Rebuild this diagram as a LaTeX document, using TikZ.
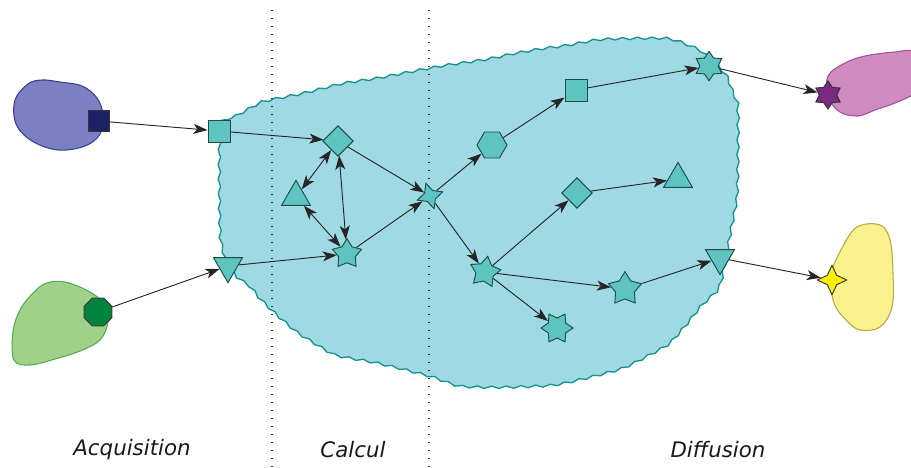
\documentclass[tikz,border=0pt]{standalone}
\usepackage{fontspec}
\setsansfont{DejaVu Sans}
\usetikzlibrary{shapes.geometric,arrows.meta,decorations.pathmorphing}
\definecolor{regfill}{HTML}{9FD9E4}
\definecolor{regdraw}{HTML}{17948F}
\definecolor{nfill}{HTML}{5EC4BF}
\definecolor{ndraw}{HTML}{1F4B48}
\definecolor{bluefill}{HTML}{7B80C2}
\definecolor{bluedraw}{HTML}{3A3F92}
\definecolor{navy}{HTML}{1B2266}
\definecolor{greenfill}{HTML}{A1D189}
\definecolor{greendraw}{HTML}{4FAE55}
\definecolor{darkgreen}{HTML}{00843D}
\definecolor{pinkfill}{HTML}{CF8BC0}
\definecolor{pinkdraw}{HTML}{A2529C}
\definecolor{purp}{HTML}{7A2A80}
\definecolor{yelfill}{HTML}{FAF08C}
\definecolor{yeldraw}{HTML}{B3AA48}
\definecolor{yel}{HTML}{FFEE00}
\begin{document}
\begin{tikzpicture}[x=0.75pt,y=-0.75pt,
  shp/.style={draw=ndraw,fill=nfill,line width=0.7pt,inner sep=0pt},
  sqb/.style={shp,rectangle,minimum size=16.5pt},
  dia/.style={shp,diamond,minimum size=23pt},
  triu/.style={shp,regular polygon,regular polygon sides=3,minimum size=25pt},
  trid/.style={triu,shape border rotate=180},
  hexa/.style={shp,regular polygon,regular polygon sides=6,minimum size=22.5pt},
  stfive/.style={shp,star,star points=5,star point ratio=1.75},
  stfour/.style={shp,star,star points=4,star point ratio=2.2},
  stsix/.style={shp,star,star points=6,star point ratio=1.6},
  tip/.style={},
  arr/.style={-{Stealth[length=10.5pt,width=7.5pt,inset=2.8pt]},line width=0.7pt,draw=black!85},
  darr/.style={{Stealth[length=10.5pt,width=7.5pt,inset=2.8pt]}-{Stealth[length=10.5pt,width=7.5pt,inset=2.8pt]},line width=0.7pt,draw=black!85},
  sep/.style={line width=0.8pt,dash pattern=on 1.1pt off 4.9pt,draw=black!80},
  lab/.style={font=\sffamily\itshape\fontsize{16}{19}\selectfont,text=black!90}
]
\useasboundingbox (0,0) rectangle (911,468);

% outer blobs
\path[draw=bluedraw,fill=bluefill,line width=0.8pt] plot[smooth cycle,tension=0.6] coordinates {
 (15,100) (28,84) (42,80) (60,82) (82,86) (97,98) (103,115) (100,134) (85,146) (58,150) (32,141) (16,124)};
\path[draw=greendraw,fill=greenfill,line width=0.8pt] plot[smooth cycle,tension=0.6] coordinates {
 (47,283) (65,282) (90,292) (105,305) (108,322) (100,340) (80,351) (55,359) (30,365) (14,360) (13,332) (20,310) (34,292)};
\begin{scope}
\clip (0,0) rectangle (911,468);
\path[draw=pinkdraw,fill=pinkfill,line width=0.8pt] plot[smooth cycle,tension=0.6] coordinates {
 (828,76) (845,63) (865,56) (895,52) (915,52) (930,75) (915,93) (895,103) (875,110) (858,116) (840,112) (829,98)};
\end{scope}
\path[draw=yeldraw,fill=yelfill,line width=0.8pt] plot[smooth cycle,tension=0.6] coordinates {
 (857,227) (880,225) (890,240) (893,273) (892,307) (880,327) (860,330) (846,320) (834,303) (831,275) (842,248)};

% central region
\path[draw=regdraw,fill=regfill,line width=1pt,decorate,decoration={snake,segment length=11pt,amplitude=0.9pt}]
 plot[smooth cycle,tension=0.35] coordinates {
 (219,125) (232,118) (258,104) (275,100) (300,95) (340,85) (373,80) (420,71) (442,67) (483,61)
 (512,55) (541,50) (564,47) (599,41) (663,40) (686,47) (700,54) (722,75) (730,95) (735,108)
 (735,160) (734,200) (728,232) (722,265) (716,290) (699,307) (683,327) (667,345) (650,355)
 (620,370) (583,380) (550,387) (500,389) (457,388) (430,379) (400,371) (370,364) (333,357)
 (310,344) (293,333) (270,313) (257,300) (247,288) (236,280) (224,264) (218,240) (217,200) (217,150)};

% separators
\coordinate (d1t) at (272,10); \coordinate (d1b) at (272,468);
\coordinate (d2t) at (429,10); \coordinate (d2b) at (429,468);
\draw[sep] (d1t) -- (d1b);
\draw[sep] (d2t) -- (d2b);

% nodes
\node[sqb,fill=navy,draw=black!80,minimum size=15.5pt] (s1) at (99,121) {};
\node[shp,regular polygon,regular polygon sides=8,minimum size=22.5pt,fill=darkgreen,draw=black!75] (s2) at (98,312) {};
\node[sqb] (A) at (219,131) {};
\node[trid] (B) at (228,266) {};
\node[dia] (C) at (338,141) {};
\node[triu] (D) at (296,197) {};
\node[stfive,minimum size=23pt] (E) at (347,254) {};
\node[stfour,minimum size=20pt,rotate=18] (F) at (430,196) {};
\node[hexa] (G) at (492,145) {};
\node[sqb] (H) at (576,90) {};
\node[stsix,minimum size=22pt] (I) at (709,66) {};
\node[dia] (J) at (577,193) {};
\node[triu] (K) at (678,179) {};
\node[stfive,minimum size=24pt,rotate=-10] (L) at (485,272) {};
\node[stfive,minimum size=26pt] (M) at (625,289) {};
\node[stsix,minimum size=24pt,rotate=30] (N) at (557,328) {};
\node[trid] (O) at (720,258) {};
\node[stsix,minimum size=21pt,fill=purp,draw=black!80] (P) at (828,95) {};
\node[stfour,minimum size=22pt,fill=yel,draw=black!80] (Q) at (832,280) {};

% connectors
\draw[arr] (s1) -- (A);
\draw[arr] (s2) -- (B);
\draw[arr] (A) -- (C);
\draw[arr] (B) -- (E);
\draw[darr] (C) -- (D);
\draw[darr] (D) -- (E);
\draw[darr] (C) -- (E);
\draw[arr] (C) -- (F);
\draw[arr] (E) -- (F);
\draw[arr] (F) -- (G);
\draw[arr] (F) -- (L);
\draw[arr] (G) -- (H);
\draw[arr] (H) -- (I);
\draw[arr] (I) -- (P);
\draw[arr] (L) -- (J);
\draw[arr] (J) -- (K);
\draw[arr] (L) -- (M);
\draw[arr] (L) -- (N);
\draw[arr] (M) -- (O);
\draw[arr] (O) -- (Q);

% labels
\node[lab] (t1) at (132,450) {Acquisition};
\node[lab] (t2) at (353,450) {Calcul};
\node[lab] (t3) at (718,450) {Diffusion};
\end{tikzpicture}
\end{document}
